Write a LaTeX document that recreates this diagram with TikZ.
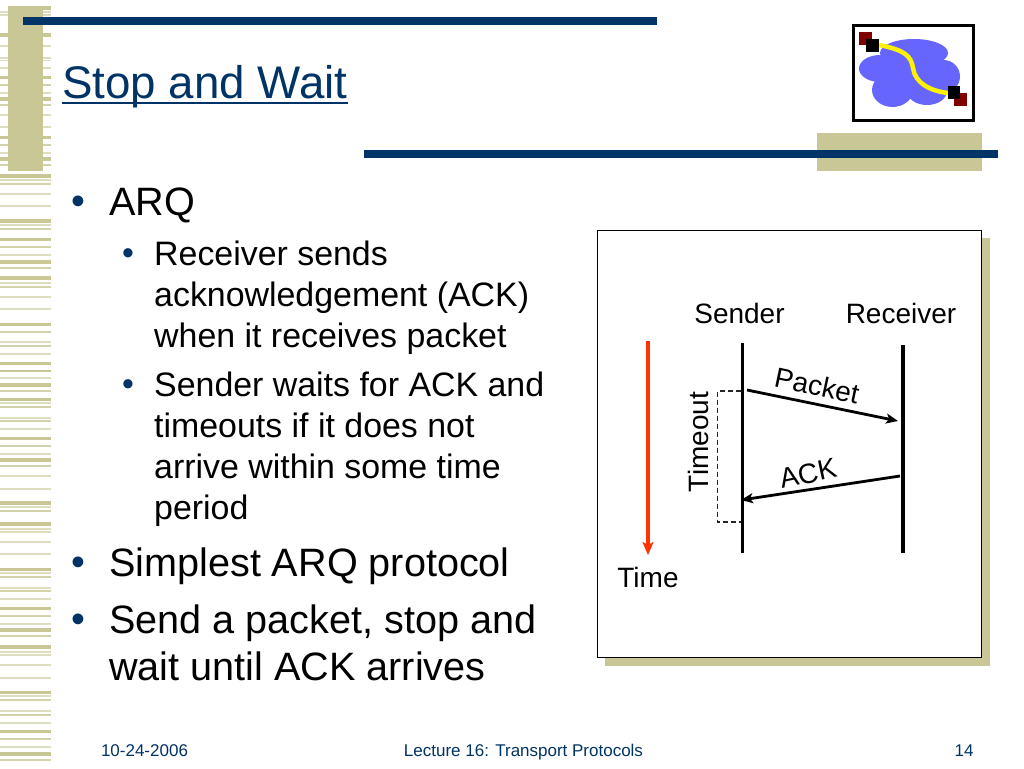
\documentclass[tikz,border=0pt]{standalone}
\usepackage{fontspec}
\setmainfont{Liberation Sans}
\usetikzlibrary{arrows.meta}
\definecolor{tan}{HTML}{C8C795}
\definecolor{navy}{HTML}{003366}
\definecolor{cloudc}{HTML}{6666FF}
\definecolor{redc}{HTML}{FF3300}
\definecolor{maroon}{HTML}{800000}
\newcommand{\fs}[1]{\fontsize{#1}{#1}\selectfont}
\tikzset{
  lbl/.style={inner sep=0pt,anchor=base west,text=black},
  big/.style={lbl,font=\fs{39.6}},
  small/.style={lbl,font=\fs{33.9}},
  bigb/.style={lbl,font=\fs{39.6},text=navy},
  smallb/.style={lbl,font=\fs{33.9},text=navy},
  diag/.style={inner sep=0pt,anchor=base,font=\fs{28}},
  foot/.style={inner sep=0pt,anchor=base,font=\fs{17},text=navy},
  life/.style={line width=3.2pt},
  msg/.style={line width=2.8pt,-{Stealth[length=12pt,width=10pt,inset=3pt]}},
}
\begin{document}
\begin{tikzpicture}[x=1pt,y=-1pt]
\useasboundingbox (0,0) rectangle (1024,768);
\fill[white] (0,0) rectangle (1024,768);
% stripes
\foreach \y/\t in {12/1.5,15/1.5,35/3.5,46/1.5,58/1.5,60.5/1.5,68/1.2,77/3,85/1.8,93/1.2,99/4,105/1.8,115/1.2,127/1.2,137/3,145/1.8,153/1.2,159/3.5,165/1.8,
175.7/4,180/1.3,184/2,194/1.5,206/1.3,221/3.5,225/1.3,229/1.8,239/3,247/1.8,255/1.2,262/4,268/1.8,278/4,283/1.3,287/1.8,297/1.2,309/1.2,324/3,332/1.8,342/1.2,346/1.8,354/1.3,363/3,
371/2.5,378/1.3,385/4,391/1.8,399/3,403/1.3,407/1.8,418/1.3,421/1.8,429/1.2,438/3,446/1.8,454/1.3,460/4,466/1.8,476/1.3,489/1.3,503/3.5,507/1.3,511/1.8,524/4,529/1.3,532/1.3,542/1.5,554/1.3,
569/3,573/1.3,577/2,588/1.3,591/1.8,599/1.2,608/3,616/1.8,624/1.3,630/4,636/1.8,647/4,652/1.3,655/1.3,665/1.5,678/1.3,692/3,696/1.3,700/2,711/1.3,715/1.8,723/1.3,731/3,739/1.8,747/1.3,754/4,760/1.8}{
  \pgfmathsetmacro{\op}{\t<1.6?0.6:(\t<2.1?0.8:1)}
  \fill[tan,opacity=\op] (0,\y-\t/2) rectangle (51,\y+\t/2);
}
\fill[tan] (8,6) rectangle (51,10);
\fill[tan] (8,6) rectangle (43,171);
\fill[tan] (817,133) rectangle (982,170.5);
\fill[navy] (23,17) rectangle (657,25);
\fill[navy] (364,150) rectangle (998,158);
% logo
\fill[cloudc] (914,53) ellipse (34 and 14);
\fill[cloudc] (880,68.5) ellipse (21 and 13.5);
\fill[cloudc] (892.5,90) ellipse (20.5 and 17);
\fill[cloudc] (927,91) ellipse (20 and 14);
\fill[cloudc] (943.5,76.5) ellipse (16.5 and 16.5);
\fill[cloudc] (910,72) ellipse (38 and 26);
\draw[yellow,line width=4.5pt] (879,45) .. controls (905,50) and (911,56) .. (913,68) .. controls (915,83) and (930,91) .. (948,93);
\fill[maroon] (859,32) rectangle (872,45);
\fill[black] (866,39) rectangle (879,52);
\fill[maroon] (954,93) rectangle (967,106);
\fill[black] (948,86) rectangle (960,99);
\draw[black,line width=3pt] (853.5,26) rectangle (973,120);
% title
\node[inner sep=0pt,anchor=base west,text=navy,font=\fs{45.7}] (title) at (62,98) {Stop and Wait};
\draw[navy,line width=2.2pt] ([yshift=-4.8pt]title.base west) -- ([yshift=-4.8pt]title.base east);
% body
\node[bigb] (b1) at (71,214) {•};
\node[big] (t1) at (109,215) {ARQ};
\node[smallb] (b2) at (122,264) {•};
\node[small] (t2) at (154,265) {Receiver sends};
\node[small] (t3) at (154,306) {acknowledgement (ACK)};
\node[small] (t4) at (154,347) {when it receives packet};
\node[smallb] (b3) at (122,395) {•};
\node[small] (t5) at (154,396) {Sender waits for ACK and};
\node[small] (t6) at (154,437) {timeouts if it does not};
\node[small] (t7) at (154,478) {arrive within some time};
\node[small] (t8) at (154,519) {period};
\node[bigb] (b4) at (71,575) {•};
\node[big] (t9) at (109,576) {Simplest ARQ protocol};
\node[bigb] (b5) at (71,632) {•};
\node[big] (t10) at (109,633) {Send a packet, stop and};
\node[big] (t11) at (109,680) {wait until ACK arrives};
% panel
\fill[tan] (605,238) rectangle (990,666);
\draw[black,fill=white,line width=1pt] (597.5,230.5) rectangle (981.5,657);
% diagram
\node[diag] (sender) at (739.5,323) {Sender};
\node[diag] (receiver) at (901,323) {Receiver};
\node[diag] (time) at (648,587) {Time};
\node[diag,rotate=90] (timeout) at (708.5,442) {Timeout};
\node[diag,rotate=-12,anchor=center] (packet) at (817,385.5) {Packet};
\node[diag,rotate=12,anchor=center] (ack) at (808,473.5) {ACK};
\coordinate (ts) at (648,341);
\coordinate (te) at (648,555);
\coordinate (s1) at (742.5,343);
\coordinate (s2) at (742.5,553);
\coordinate (r1) at (903,345);
\coordinate (r2) at (903,553);
\coordinate (p1) at (747,390);
\coordinate (p2) at (898,421);
\coordinate (a1) at (900,476);
\coordinate (a2) at (741,500);
\coordinate (d1) at (741,391);
\coordinate (d2) at (717.5,391);
\coordinate (d3) at (717.5,522);
\coordinate (d4) at (741,522);
\draw[redc,line width=3.2pt,-{Stealth[length=13pt,width=11pt,inset=3pt]}] (ts) -- (te);
\draw[life] (s1) -- (s2);
\draw[life] (r1) -- (r2);
\draw[msg] (p1) -- (p2);
\draw[msg] (a1) -- (a2);
\draw[black!85,line width=1.1pt,dash pattern=on 5pt off 3pt] (d1) -- (d2) -- (d3) -- (d4);
% footer
\node[foot] (f1) at (144.5,756) {10-24-2006};
\node[foot] (f2) at (523.5,756) {Lecture 16: Transport Protocols};
\node[foot] (f3) at (964,756) {14};
\end{tikzpicture}
\end{document}
